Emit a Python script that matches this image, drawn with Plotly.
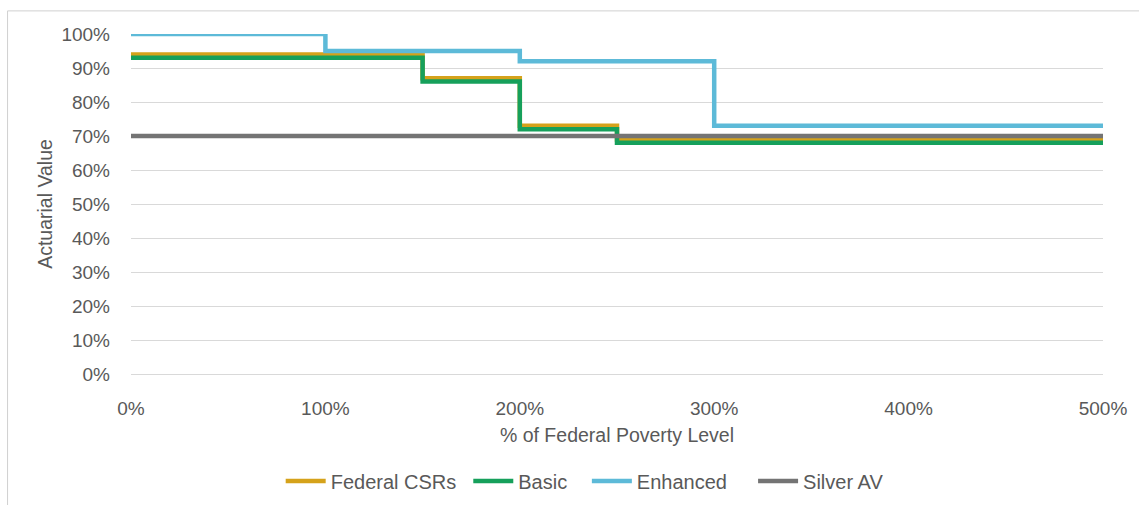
import plotly.graph_objects as go

# Federal poverty level breakpoints (%), step functions held until next breakpoint
fpl = [0, 100, 150, 200, 250, 300, 500]

federal_csrs = [94, 94, 87, 73, 69, 69, 69]
basic = [93, 93, 86, 72, 68, 68, 68]
enhanced = [100, 95, 95, 92, 92, 73, 73]
silver_av = [70, 70, 70, 70, 70, 70, 70]

series = [
    ("Federal CSRs", federal_csrs, "#D5A21B"),
    ("Basic", basic, "#16A05B"),
    ("Enhanced", enhanced, "#5DBAD8"),
    ("Silver AV", silver_av, "#747474"),
]

# left edge of each legend entry, as a fraction of the plot width
legend_x = [0.154, 0.347, 0.469, 0.640]

x_ticks = [0, 100, 200, 300, 400, 500]
y_ticks = [0, 10, 20, 30, 40, 50, 60, 70, 80, 90, 100]

FONT = "Liberation Sans, Arial, sans-serif"
TEXT = "#595959"
GRID = "#D9D9D9"

fig = go.Figure()
legends = {}
for i, (name, vals, color) in enumerate(series):
    key = "legend" if i == 0 else f"legend{i + 1}"
    fig.add_trace(go.Scatter(
        x=fpl, y=vals, name=name, mode="lines", legend=key,
        line=dict(color=color, width=4.5, shape="hv"),
    ))
    legends[key] = dict(
        orientation="h", x=legend_x[i], xanchor="left", y=-0.315, yanchor="middle",
        font=dict(size=20, color=TEXT), itemwidth=40, bgcolor="rgba(0,0,0,0)",
    )

fig.update_layout(
    width=1139, height=505,
    margin=dict(l=131, r=36, t=34, b=131, autoexpand=False),
    paper_bgcolor="white", plot_bgcolor="white",
    font=dict(family=FONT, size=19, color=TEXT),
    showlegend=True,
    xaxis=dict(
        range=[0, 500], tickvals=x_ticks, ticktext=[f"{v}%" for v in x_ticks],
        showgrid=False, zeroline=False, showline=True, linecolor=GRID, linewidth=1,
        ticks="", ticklabelstandoff=17, tickfont=dict(size=19, color=TEXT),
        title=dict(text="% of Federal Poverty Level", font=dict(size=19.5, color=TEXT), standoff=10),
        fixedrange=True,
    ),
    yaxis=dict(
        range=[0, 100], tickvals=y_ticks, ticktext=[f"{v}%" for v in y_ticks],
        showgrid=True, gridcolor=GRID, gridwidth=1, zeroline=False, showline=False,
        ticks="", ticklabelstandoff=20, tickfont=dict(size=19, color=TEXT),
        title=dict(text="Actuarial Value", font=dict(size=19.5, color=TEXT), standoff=3),
        fixedrange=True,
    ),
    shapes=[
        dict(type="rect", xref="paper", yref="paper",
             x0=-0.127, x1=1.2, y0=-0.6, y1=1.068,
             line=dict(color="#D0D0D0", width=1), fillcolor="rgba(0,0,0,0)", layer="below"),
    ],
    **legends,
)

fig.write_html("out.html")
